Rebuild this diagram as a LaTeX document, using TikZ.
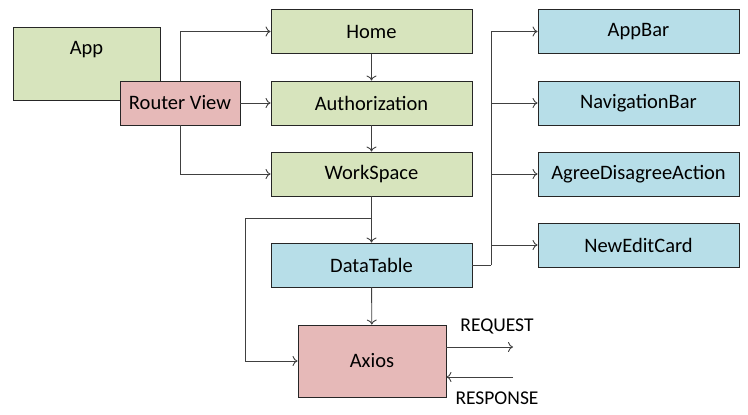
\documentclass[tikz,border=0pt]{standalone}
\usepackage{fontspec}
\setmainfont{Carlito}
\usetikzlibrary{arrows.meta}
\definecolor{grn}{HTML}{D7E4BD}
\definecolor{pnk}{HTML}{E6B9B8}
\definecolor{blu}{HTML}{B7DEE8}
\definecolor{ln}{HTML}{404040}
\tikzset{
  box/.style={draw=black!85, line width=0.9pt, minimum height=44pt, inner sep=0pt, font=\fontsize{20.5}{22}\selectfont},
  gbox/.style={box, fill=grn, minimum width=201pt},
  bbox/.style={box, fill=blu, minimum width=201pt},
  conn/.style={draw=ln, line width=0.9pt, -{To[length=5pt,width=10pt]}},
  plain/.style={draw=ln, line width=0.9pt},
  lbl/.style={font=\fontsize{19.5}{22}\selectfont, inner sep=0pt}
}
\begin{document}
\begin{tikzpicture}[x=1pt,y=-1pt]
\useasboundingbox (0,0) rectangle (748,415);
\node[box, fill=grn, minimum width=147pt, minimum height=73pt,
  label={[anchor=center, yshift=-23pt, box, draw=none, fill=none, minimum height=0pt]north:App}] (app) at (86.5,63.5) {};
\node[box, fill=pnk, minimum width=120pt] (router) at (180,103) {Router View};
\node[gbox] (home) at (371.5,31.5) {Home};
\node[gbox] (auth) at (371.5,103) {Authorization};
\node[gbox] (ws) at (371.5,174) {WorkSpace};
\node[bbox, minimum width=201pt] (dt) at (371.5,265) {DataTable};
\node[box, fill=pnk, minimum width=148pt, minimum height=72pt] (axios) at (372,361) {Axios};
\node[bbox] (appbar) at (638.5,31.5) {AppBar};
\node[bbox] (nav) at (638.5,103) {NavigationBar};
\node[bbox] (agree) at (638.5,174) {AgreeDisagreeAction};
\node[bbox] (newedit) at (638.5,245) {NewEditCard};
\coordinate (b1) at (372,218);
\coordinate (b2) at (245,218);
\coordinate (j) at (491,265);
\coordinate (req) at (513,347);
\coordinate (resp) at (513,377);
\node[lbl] (reqlbl) at (497,326) {REQUEST};
\node[lbl] (resplbl) at (497,398) {RESPONSE};
\draw[conn] (router.north) |- (home.west);
\draw[conn] (router.east) -- (auth.west);
\draw[conn] (router.south) |- (ws.west);
\draw[conn] (home) -- (auth);
\draw[conn] (auth) -- (ws);
\draw[conn] (ws) -- (dt);
\draw[conn] (b1) -- (b2) |- (axios.west);
\draw[conn] (dt) -- (axios);
\draw[plain] (dt.east) -- (j);
\draw[conn] (j) |- (appbar.west);
\draw[conn] (j) |- (nav.west);
\draw[conn] (j) |- (agree.west);
\draw[conn] (j) |- (newedit.west);
\draw[conn] ([yshift=14pt]axios.east) -- (req);
\draw[conn] (resp) -- ([yshift=-16pt]axios.east);
\end{tikzpicture}
\end{document}
